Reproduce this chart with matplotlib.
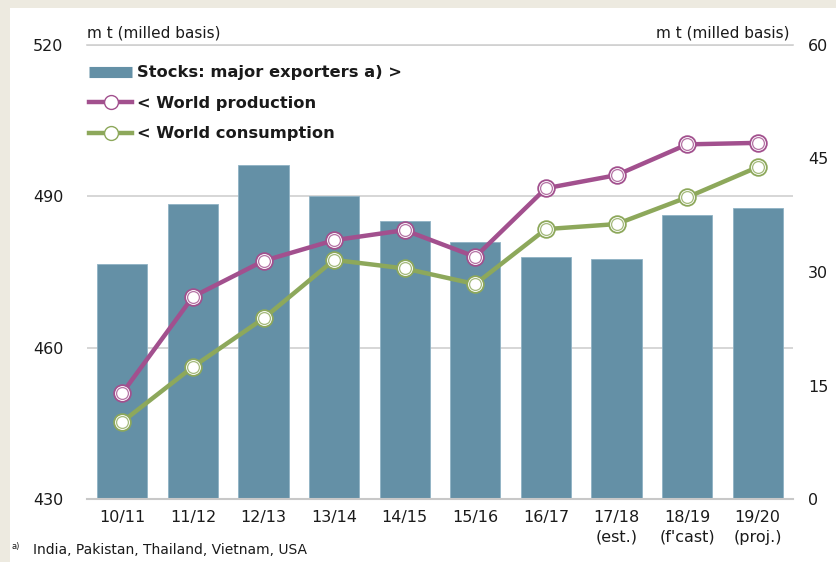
import matplotlib
matplotlib.use("Agg")
import matplotlib.pyplot as plt
from matplotlib.patches import Rectangle
from matplotlib.lines import Line2D

# data
seasons = ["10/11", "11/12", "12/13", "13/14", "14/15", "15/16", "16/17",
           "17/18\n(est.)", "18/19\n(f'cast)", "19/20\n(proj.)"]
stocks = [31.1, 39.0, 44.2, 40.1, 36.7, 34.0, 32.0, 31.7, 37.5, 38.5]
production = [451.0, 470.1, 477.2, 481.3, 483.3, 478.0, 491.6, 494.2, 500.3, 500.6]
consumption = [445.3, 456.2, 465.8, 477.4, 475.7, 472.6, 483.5, 484.5, 489.8, 495.8]

left_ticks = [430, 460, 490, 520]
right_ticks = [0, 15, 30, 45, 60]

bar_col = "#6490A6"
prod_col = "#A2508E"
cons_col = "#8DA85B"
grid_col = "#D0D0D0"

W, H = 836, 562
fig = plt.figure(figsize=(W / 100, H / 100), dpi=100)
fig.patch.set_facecolor("#EDEAE0")
fig.patches.append(Rectangle((10 / W, 0), 1, 1 - 8 / H, transform=fig.transFigure,
                             facecolor="white", edgecolor="none", zorder=0))

pos = [87 / W, 1 - 499 / H, (793 - 87) / W, (499 - 45) / H]
ax_bars = fig.add_axes(pos)
ax_lines = ax_bars.twinx()
ax_bars.set_zorder(1)
ax_lines.set_zorder(2)
ax_lines.patch.set_visible(False)
ax_bars.patch.set_visible(False)

x = list(range(len(seasons)))

# bars on the right-hand scale
ax_bars.bar(x, stocks, width=0.71, color=bar_col, edgecolor="#8FB2C4",
            linewidth=0.6, zorder=2)
ax_bars.set_ylim(0, 60)
ax_bars.set_xlim(-0.5, len(seasons) - 0.5)
ax_bars.hlines(left_ticks[1:], 0, 1, transform=ax_lines.get_yaxis_transform(),
               color=grid_col, linewidth=1.2, zorder=1)

# lines on the left-hand scale
for vals, col in [(production, prod_col), (consumption, cons_col)]:
    ax_lines.plot(x, vals, color=col, linewidth=3.2, zorder=3,
                  marker="o", markersize=12, markerfacecolor="white",
                  markeredgecolor=col, markeredgewidth=1.3)
    ax_lines.plot(x, vals, linestyle="none", zorder=4, marker="o", markersize=8.5,
                  markerfacecolor="white", markeredgecolor=col,
                  markeredgewidth=0.9, alpha=0.8)
ax_lines.set_ylim(430, 520)

ax_lines.yaxis.tick_left()
ax_bars.yaxis.tick_right()
ax_lines.set_yticks(left_ticks)
ax_bars.set_yticks(right_ticks)
ax_bars.set_xticks(x)
ax_bars.set_xticklabels(seasons, linespacing=1.4)

for a in (ax_bars, ax_lines):
    for s in a.spines.values():
        s.set_visible(False)
    a.tick_params(length=0, labelsize=11.5, colors="#1a1a1a")
ax_lines.tick_params(axis="y", pad=17)
ax_bars.tick_params(axis="y", pad=11)
ax_bars.tick_params(axis="x", pad=8)
ax_bars.spines["bottom"].set_visible(True)
ax_bars.spines["bottom"].set_color("#C8C8C8")
ax_bars.spines["bottom"].set_linewidth(1.5)
ax_bars.spines["top"].set_visible(True)
ax_bars.spines["top"].set_color(grid_col)
ax_bars.spines["top"].set_linewidth(1.2)

# unit labels
fig.text(87 / W, 1 - 33 / H, "m t (milled basis)", fontsize=11, ha="left", va="center",
         color="#1a1a1a")
fig.text(790 / W, 1 - 33 / H, "m t (milled basis)", fontsize=11, ha="right", va="center",
         color="#1a1a1a")

handles = [
    Line2D([], [], color=bar_col, linewidth=8, solid_capstyle="butt"),
    Line2D([], [], color=prod_col, linewidth=3.2, marker="o", markersize=10,
           markerfacecolor="white", markeredgecolor=prod_col),
    Line2D([], [], color=cons_col, linewidth=3.2, marker="o", markersize=10,
           markerfacecolor="white", markeredgecolor=cons_col),
]
labels = ["Stocks: major exporters a) >", "< World production", "< World consumption"]
leg = ax_lines.legend(handles, labels, loc="upper left",
                      bbox_to_anchor=(78 / W, 1 - 54 / H), bbox_transform=fig.transFigure,
                      frameon=False, handlelength=2.6, handletextpad=0.35,
                      labelspacing=0.95, borderpad=0.2,
                      prop={"family": "DejaVu Sans", "weight": "bold", "size": 11.7})
for t in leg.get_texts():
    t.set_color("#1a1a1a")

# footnote
fig.text(12 / W, 1 - 546 / H, "a)", fontsize=6, ha="left", va="center", color="#1a1a1a")
fig.text(33 / W, 1 - 550 / H, "India, Pakistan, Thailand, Vietnam, USA", fontsize=10,
         ha="left", va="center", color="#1a1a1a")

fig.savefig("out.png", dpi=100, facecolor=fig.get_facecolor())
